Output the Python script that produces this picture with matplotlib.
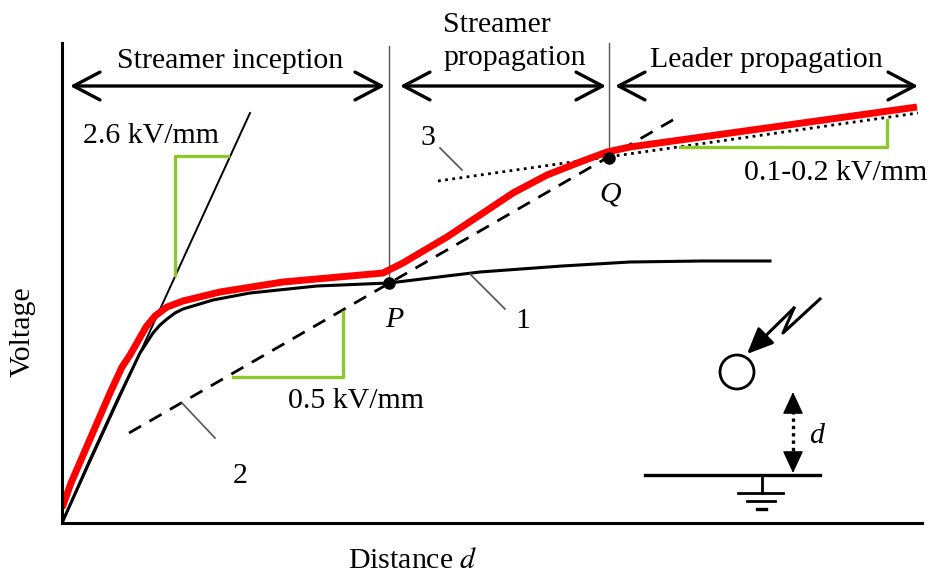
import matplotlib
matplotlib.use("Agg")
import matplotlib.pyplot as plt
from matplotlib.patches import Circle

plt.rcParams["font.family"] = ["Liberation Serif", "DejaVu Serif"]
plt.rcParams["mathtext.fontset"] = "stix"

# curve 1 (black): streamer inception voltage vs distance
curve1_x = [0, 28, 55, 78, 91, 98, 105, 113, 121, 151, 188, 255, 327, 418, 500, 568, 640, 708]
curve1_y = [0, 63, 122, 170, 190, 198, 204, 210, 214, 223, 230, 237, 240, 251, 257, 261, 262, 262]

# red curve: breakdown voltage
red_x = [0, 9, 22, 35, 48, 60, 68, 76, 84, 93, 105, 121, 158, 221, 288, 321, 341, 351,
         385, 418, 451, 485, 518, 545, 568, 855]
red_y = [15, 40, 70, 100, 130, 156, 168, 182, 196, 207, 216, 222, 231, 241, 247, 250, 260, 266,
         286, 308, 330, 348, 361, 371, 376, 416]

# straight guide lines
tangent_x, tangent_y = [0, 188], [0, 410]      # 2.6 kV/mm
line2_x, line2_y = [67, 616], [90, 406]        # 0.5 kV/mm
line3_x, line3_y = [376, 856], [342, 410]      # 0.1-0.2 kV/mm

P = (327, 240)
Q = (547, 365)

# slope triangles (green)
tri1_x, tri1_y = [113, 113, 166], [248, 367, 367]
tri2_x, tri2_y = [171, 281, 281], [146, 146, 211]
tri3_x, tri3_y = [618, 825, 825], [376, 376, 403]

# phase arrows
arrow_y = 437
phases = [(8, 323), (338, 544), (553, 856)]

GREEN = "#8CC828"
RED = "#FF0000"
FS = 21.5

fig = plt.figure(figsize=(9.33, 5.74), dpi=100)
ax = fig.add_axes([62 / 933, 51 / 574, 860 / 933, 480 / 574])
ax.set_xlim(0, 860)
ax.set_ylim(0, 480)
ax.set_xticks([])
ax.set_yticks([])
for s in ["top", "right"]:
    ax.spines[s].set_visible(False)
for s in ["left", "bottom"]:
    ax.spines[s].set_linewidth(2.2)

# dividers
ax.plot([P[0], P[0]], [P[1], 477], color="#555555", lw=1.0)
ax.plot([Q[0], Q[0]], [Q[1], 480], color="#555555", lw=1.0, clip_on=False)

# guide lines
ax.plot(tangent_x, tangent_y, color="black", lw=1.4)
ax.plot(line2_x, line2_y, color="black", lw=2.0, ls=(0, (5, 3.5)))
ax.plot(line3_x, line3_y, color="black", lw=2.0, ls=(0, (1, 1.6)))

# slope triangles
for tx, ty in [(tri1_x, tri1_y), (tri2_x, tri2_y), (tri3_x, tri3_y)]:
    ax.plot(tx, ty, color=GREEN, lw=2.4)

# curves
ax.plot(curve1_x, curve1_y, color="black", lw=2.2, solid_joinstyle="round")
ax.plot(red_x, red_y, color=RED, lw=5.0, solid_capstyle="butt", solid_joinstyle="round")

# P, Q points
ax.plot(*P, "o", color="black", ms=8)
ax.plot(*Q, "o", color="black", ms=8)

# leader lines
ax.plot([408, 443], [249, 214], color="#555555", lw=1.2)
ax.plot([120, 153], [120, 85], color="#555555", lw=1.2)
ax.plot([378, 400], [375, 353], color="#555555", lw=1.2)

# phase arrows
for x0, x1 in phases:
    ax.annotate("", xy=(x1, arrow_y), xytext=(x0, arrow_y),
                arrowprops=dict(arrowstyle="<->,head_length=1.9,head_width=1.0",
                                lw=2.4, color="black", shrinkA=0, shrinkB=0,
                                mutation_scale=10))

# texts
ax.text(168, 455, "Streamer inception", fontsize=FS, ha="center", va="baseline")
ax.text(381, 491, "Streamer", fontsize=FS, ha="left", va="baseline")
ax.text(381, 458, "propagation", fontsize=FS, ha="left", va="baseline")
ax.text(704, 456, "Leader propagation", fontsize=FS, ha="center", va="baseline")
ax.text(21, 380, "2.6 kV/mm", fontsize=FS, ha="left", va="baseline")
ax.text(226, 115, "0.5 kV/mm", fontsize=FS, ha="left", va="baseline")
ax.text(682, 343, "0.1-0.2 kV/mm", fontsize=FS, ha="left", va="baseline")
ax.text(366, 378, "3", fontsize=FS, ha="center", va="baseline")
ax.text(461, 195, "1", fontsize=FS, ha="center", va="baseline")
ax.text(178, 40, "2", fontsize=FS, ha="center", va="baseline")
ax.text(332, 196, "P", fontsize=FS, ha="center", va="baseline", style="italic")
ax.text(548, 322, "Q", fontsize=FS, ha="center", va="baseline", style="italic")

# inset sketch: lightning, sphere, ground
bolt_x = [758, 721, 732]
bolt_y = [224, 190, 215]
ax.plot(bolt_x, bolt_y, color="black", lw=2.2)
ax.annotate("", xy=(685, 169), xytext=(732, 215),
            arrowprops=dict(arrowstyle="-|>,head_length=1.6,head_width=0.7",
                            lw=2.2, color="black", shrinkA=0, shrinkB=0,
                            mutation_scale=10))
ax.add_patch(Circle((675, 151), 17, fill=False, lw=2.0, ec="black"))

ax.plot([731, 731], [65, 117], color="black", lw=2.4, ls=(0, (1, 1.2)))
ax.annotate("", xy=(731, 131), xytext=(731, 115),
            arrowprops=dict(arrowstyle="-|>,head_length=1.4,head_width=0.65",
                            lw=1, color="black", shrinkA=0, shrinkB=0,
                            mutation_scale=10))
ax.annotate("", xy=(731, 50), xytext=(731, 66),
            arrowprops=dict(arrowstyle="-|>,head_length=1.4,head_width=0.65",
                            lw=1, color="black", shrinkA=0, shrinkB=0,
                            mutation_scale=10))
ax.text(755, 80, "d", fontsize=FS, ha="center", va="baseline", style="italic")

ax.plot([583, 758], [48, 48], color="black", lw=2.4)
ax.plot([700, 700], [48, 30], color="black", lw=2.0)
ax.plot([676, 721], [30, 30], color="black", lw=2.0)
ax.plot([685, 713], [22, 22], color="black", lw=2.0)
ax.plot([695, 704], [14, 14], color="black", lw=2.4)

# axis labels
ax.text(286, -45, "Distance $d$", fontsize=FS, ha="left", va="baseline")
fig.text(23 / 933, 1 - 332 / 574, "Voltage", fontsize=FS, rotation=90,
         ha="center", va="center")

fig.savefig("out.png", dpi=100)
